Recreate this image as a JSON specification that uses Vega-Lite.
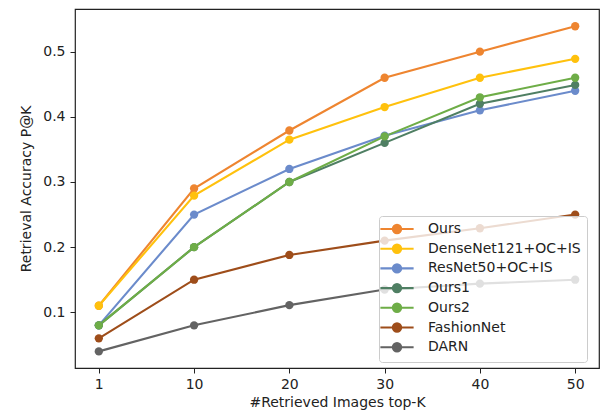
{
  "$schema": "https://vega.github.io/schema/vega-lite/v6.json",
  "width": 524,
  "height": 359,
  "autosize": {"type": "none"},
  "padding": {"left": 75, "top": 9, "right": 9, "bottom": 43},
  "background": "white",
  "config": {
    "font": "DejaVu Sans",
    "view": {"stroke": "#222222", "strokeWidth": 1.2},
    "axis": {
      "grid": false,
      "domain": false,
      "tickColor": "#222222",
      "tickSize": 5,
      "tickWidth": 1,
      "labelFont": "DejaVu Sans",
      "labelFontSize": 14,
      "labelColor": "#222222",
      "labelPadding": 4,
      "titleFont": "DejaVu Sans",
      "titleFontSize": 14,
      "titleFontWeight": "normal",
      "titleColor": "#222222"
    }
  },
  "data": {
    "values": [
      {"k": "1", "model": "Ours", "p": 0.11},
      {"k": "10", "model": "Ours", "p": 0.29},
      {"k": "20", "model": "Ours", "p": 0.379},
      {"k": "30", "model": "Ours", "p": 0.46},
      {"k": "40", "model": "Ours", "p": 0.5},
      {"k": "50", "model": "Ours", "p": 0.539},
      {"k": "1", "model": "DenseNet121+OC+IS", "p": 0.11},
      {"k": "10", "model": "DenseNet121+OC+IS", "p": 0.279},
      {"k": "20", "model": "DenseNet121+OC+IS", "p": 0.365},
      {"k": "30", "model": "DenseNet121+OC+IS", "p": 0.415},
      {"k": "40", "model": "DenseNet121+OC+IS", "p": 0.46},
      {"k": "50", "model": "DenseNet121+OC+IS", "p": 0.489},
      {"k": "1", "model": "ResNet50+OC+IS", "p": 0.08},
      {"k": "10", "model": "ResNet50+OC+IS", "p": 0.25},
      {"k": "20", "model": "ResNet50+OC+IS", "p": 0.32},
      {"k": "30", "model": "ResNet50+OC+IS", "p": 0.371},
      {"k": "40", "model": "ResNet50+OC+IS", "p": 0.41},
      {"k": "50", "model": "ResNet50+OC+IS", "p": 0.44},
      {"k": "1", "model": "Ours1", "p": 0.08},
      {"k": "10", "model": "Ours1", "p": 0.2},
      {"k": "20", "model": "Ours1", "p": 0.3},
      {"k": "30", "model": "Ours1", "p": 0.36},
      {"k": "40", "model": "Ours1", "p": 0.42},
      {"k": "50", "model": "Ours1", "p": 0.449},
      {"k": "1", "model": "Ours2", "p": 0.08},
      {"k": "10", "model": "Ours2", "p": 0.2},
      {"k": "20", "model": "Ours2", "p": 0.3},
      {"k": "30", "model": "Ours2", "p": 0.37},
      {"k": "40", "model": "Ours2", "p": 0.43},
      {"k": "50", "model": "Ours2", "p": 0.46},
      {"k": "1", "model": "FashionNet", "p": 0.06},
      {"k": "10", "model": "FashionNet", "p": 0.15},
      {"k": "20", "model": "FashionNet", "p": 0.188},
      {"k": "30", "model": "FashionNet", "p": 0.21},
      {"k": "40", "model": "FashionNet", "p": 0.229},
      {"k": "50", "model": "FashionNet", "p": 0.25},
      {"k": "1", "model": "DARN", "p": 0.04},
      {"k": "10", "model": "DARN", "p": 0.08},
      {"k": "20", "model": "DARN", "p": 0.111},
      {"k": "30", "model": "DARN", "p": 0.135},
      {"k": "40", "model": "DARN", "p": 0.144},
      {"k": "50", "model": "DARN", "p": 0.15}
    ]
  },
  "encoding": {
    "x": {
      "field": "k",
      "type": "ordinal",
      "sort": ["1", "10", "20", "30", "40", "50"],
      "scale": {"type": "point", "padding": 0.25},
      "axis": {"title": "#Retrieved Images top-K", "labelAngle": 0, "titlePadding": 4}
    },
    "y": {
      "field": "p",
      "type": "quantitative",
      "scale": {"domain": [0.0145, 0.5655], "nice": false, "zero": false},
      "axis": {"title": "Retrieval Accuracy P@K", "values": [0.1, 0.2, 0.3, 0.4, 0.5], "format": ".1f", "titlePadding": 9, "labelPadding": 5}
    },
    "color": {
      "field": "model",
      "type": "nominal",
      "sort": null,
      "scale": {
        "domain": ["Ours", "DenseNet121+OC+IS", "ResNet50+OC+IS", "Ours1", "Ours2", "FashionNet", "DARN"],
        "range": ["#EE8530", "#FFC10D", "#6B8BCB", "#4F7F63", "#6EAD47", "#9E4D1A", "#636363"]
      },
      "legend": {
        "title": null,
        "orient": "none",
        "legendX": 304,
        "legendY": 207,
        "padding": 6,
        "rowPadding": 1.7,
        "symbolType": "M-4,0H4M1,0A1,1,0,1,1,-1,0A1,1,0,1,1,1,0Z",
        "symbolSize": 69,
        "symbolStrokeWidth": 2.1,
        "symbolOffset": 5,
        "labelOffset": 24,
        "labelFont": "DejaVu Sans",
        "labelFontSize": 14,
        "labelColor": "#222222",
        "fillColor": "rgba(255,255,255,0.8)",
        "strokeColor": "#cccccc",
        "cornerRadius": 3
      }
    }
  },
  "layer": [
    {"mark": {"type": "line", "strokeWidth": 2.1}},
    {"mark": {"type": "point", "filled": true, "opacity": 1, "size": 69, "shape": "circle"}}
  ]
}
